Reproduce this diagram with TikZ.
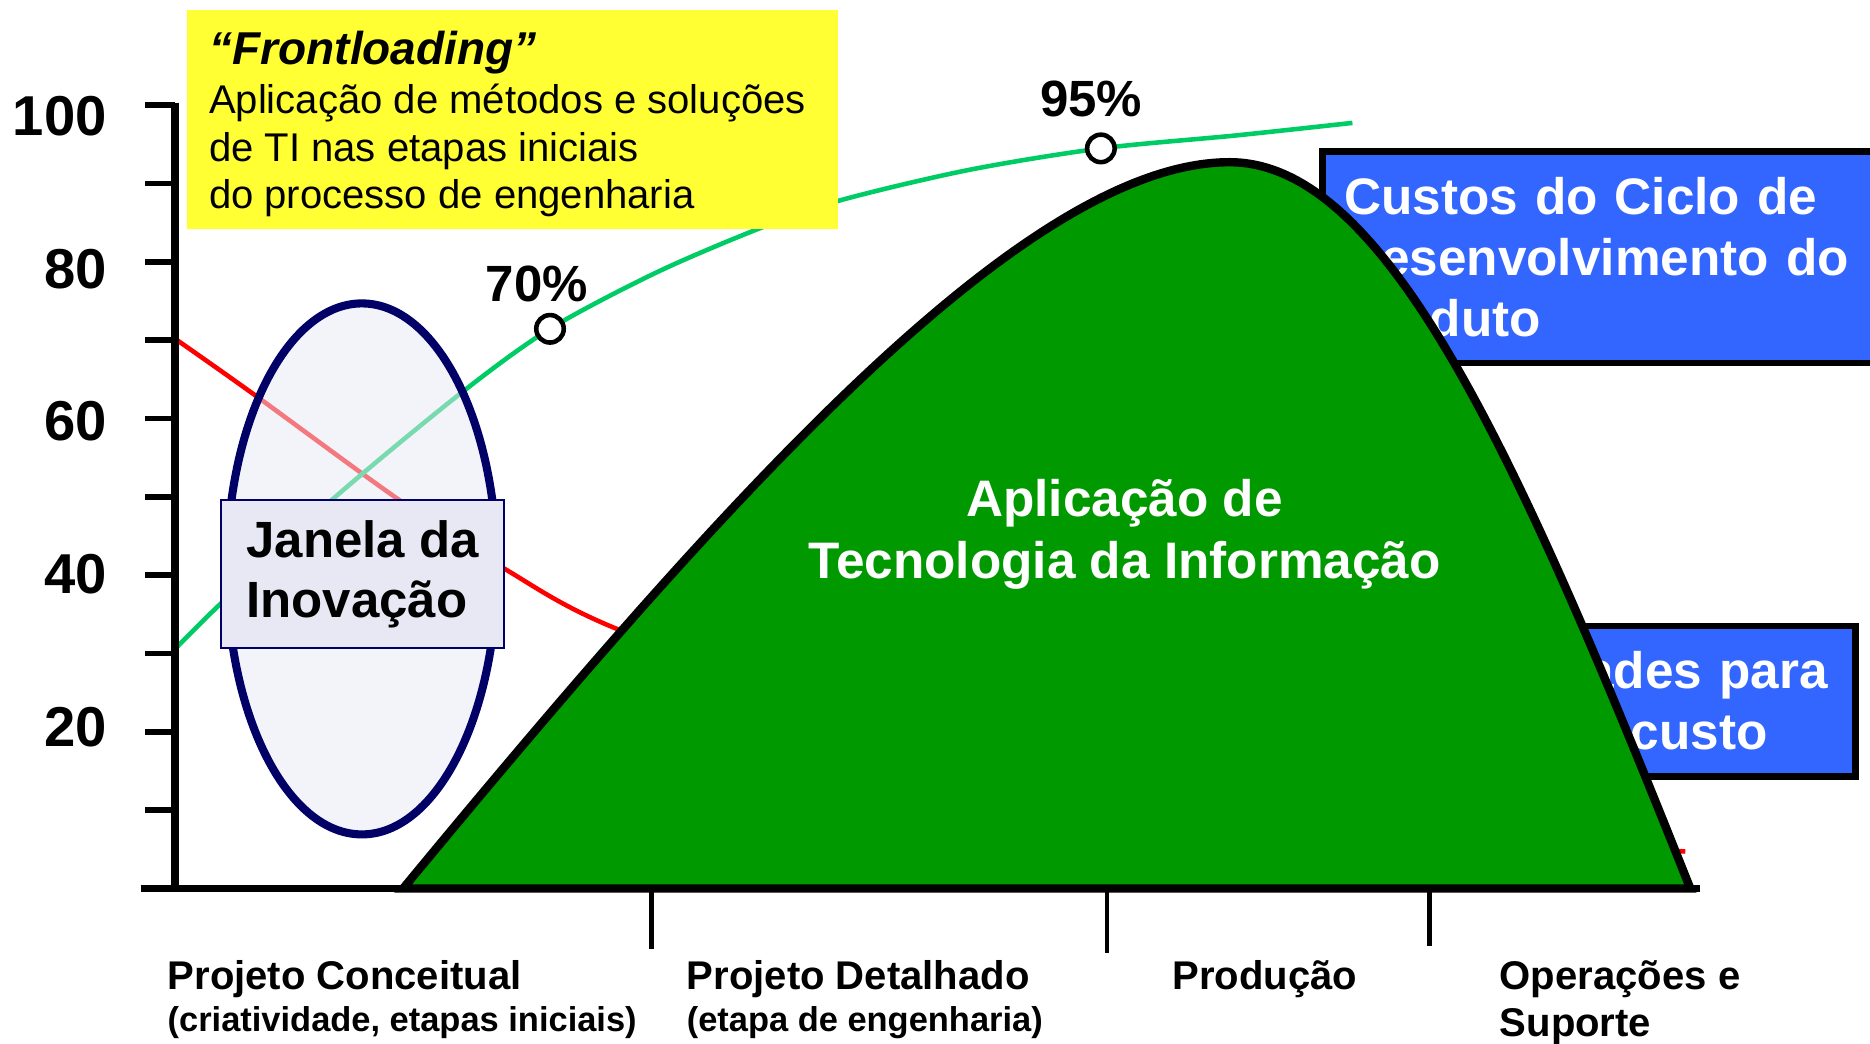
\documentclass[tikz,border=0pt]{standalone}
\usepackage{fontspec}
\setmainfont{Liberation Sans}

\definecolor{morroverde}{HTML}{009900}
\definecolor{curvaverde}{HTML}{00CC66}
\definecolor{azulmarinho}{HTML}{000066}
\definecolor{lavanda}{HTML}{E8E8F5}
\definecolor{amarelonota}{HTML}{FFFF33}
\definecolor{azulcaixa}{HTML}{3366FF}

\tikzset{
    eixo/.style={line width=2.2pt},
    marca/.style={line width=1.6pt},
    divisa/.style={line width=1.3pt},
    rotulo/.style={font=\fontsize{16}{16}\selectfont\bfseries, anchor=base east, inner sep=0pt},
    etapa/.style={font=\fontsize{11.4}{13}\selectfont\bfseries, anchor=base west, inner sep=0pt},
    subetapa/.style={font=\fontsize{9.8}{12}\selectfont\bfseries, anchor=base west, inner sep=0pt},
    caixaazul/.style={fill=azulcaixa, draw=black, line width=1.8pt, outer sep=0pt,
        inner xsep=0.215cm, inner ysep=0.1cm, align=left, text=white,
        font=\fontsize{14.6}{17.4}\selectfont\bfseries},
    notatexto/.style={font=\fontsize{11.4}{13.4}\selectfont, anchor=base west, inner sep=0pt},
    ponto/.style={circle, draw=black, fill=white, line width=1.3pt, minimum size=0.275cm, inner sep=0pt},
    pct/.style={font=\fontsize{14.5}{14.5}\selectfont\bfseries, anchor=base, inner sep=0pt},
    textomorro/.style={font=\fontsize{14.6}{17.4}\selectfont\bfseries, text=white, anchor=base, inner sep=0pt}
}

\begin{document}
\begin{tikzpicture}
        \useasboundingbox (-1.753,-1.550) rectangle (16.947,8.885);

        % --- 右側の青い箱（山の後ろ） ---
        \node[caixaazul, text width=5.597cm, minimum height=2.117cm, anchor=north west]
            (custos) at (11.473,7.37) {Custos do Ciclo de\\Desenvolvimento do\\Produto};
        \node[caixaazul, text width=4.968cm, minimum height=1.506cm, anchor=south east]
            (oportunidades) at (16.803,1.121) {\rule{0pt}{13.2pt}Oportunidades para\\redução de custo};

        % --- 曲線 ---
        \draw[red, line width=1.3pt] plot[smooth] coordinates {
            (0,5.496) (0.775,4.949) (2.218,3.900) (3.315,3.184) (4.377,2.612)
            (7,1.65) (10,0.95) (13,0.55) (15.10,0.37)};
        \draw[curvaverde, line width=1.3pt] plot[smooth] coordinates {
            (0,2.397) (0.447,2.842) (1.574,3.893) (2.850,4.949) (3.747,5.597)
            (4.8,6.155) (5.814,6.59) (6.643,6.88) (7.926,7.184) (9.256,7.401)
            (10.6,7.53) (11.771,7.656)};

        % --- 黄色のメモ ---
        \node[fill=amarelonota, anchor=north west, minimum width=6.512cm, minimum height=2.194cm,
            inner sep=0pt, outer sep=0pt] (front) at (0.119,8.789) {};
        \node[font=\fontsize{13.1}{14}\selectfont\bfseries\itshape, anchor=base west, inner sep=0pt]
            (front0) at (0.334,8.245) {“Frontloading”};
        \foreach \linha/\yy [count=\i] in {Aplicação de métodos e soluções/7.746,
            de TI nas etapas iniciais/7.269, do processo de engenharia/6.804} {
            \node[notatexto] (front\i) at (0.33,\yy) {\linha};
        }

        % --- 70% と 95% の点 ---
        \node[ponto] (p70) at (3.747,5.597) {};
        \node[pct] (l70) at (3.614,5.874) {70\%};
        \node[ponto] (p95) at (9.256,7.401) {};
        \node[pct] (l95) at (9.159,7.719) {95\%};

        % --- イノベーションの窓 ---
        \filldraw[fill=lavanda, fill opacity=0.52, draw=azulmarinho, line width=2.3pt]
            (1.866,3.196) ellipse [x radius=1.35, y radius=2.655];
        \node[draw=azulmarinho, fill=lavanda, line width=0.6pt, minimum width=2.827cm,
            minimum height=1.481cm, align=left, font=\fontsize{14.5}{17}\selectfont\bfseries]
            (janela) at (1.874,3.144) {Janela da\\Inovação};

        % --- 山（IT の適用） ---
        \filldraw[fill=morroverde, draw=black, line width=2.4pt]
            (2.278,0) .. controls (5.5,3.9) and (8.5,7.263) .. (10.543,7.263)
            .. controls (12.1,7.263) and (13.4,4.4) .. (15.15,0) -- cycle;
        \node[textomorro] (ti1) at (9.493,3.718) {Aplicação de};
        \node[textomorro] (ti2) at (9.493,3.103) {Tecnologia da Informação};

        % --- 座標軸 ---
        \draw[eixo] (0,7.86) -- (0,0);
        \draw[eixo] (-0.346,0) -- (15.247,0);

        % --- 目盛り ---
        \foreach \k in {1,...,10} {
            \draw[marca] (-0.298,{\k*0.7835}) -- (0,{\k*0.7835});
        }
        \foreach \v/\yy in {20/1.416, 40/2.947, 60/4.479, 80/5.998, 100/7.529} {
            \node[rotulo] (y\v) at (-0.68,\yy) {\v};
        }
        \foreach \x/\fim in {4.763/-0.6, 9.316/-0.645, 12.543/-0.57} {
            \draw[divisa] (\x,0) -- (\x,\fim);
        }

        % --- 段階の名前 ---
        \node[etapa] (pc) at (-0.083,-1.012) {Projeto Conceitual};
        \node[subetapa] (pcsub) at (-0.083,-1.426) {(criatividade, etapas iniciais)};
        \node[etapa] (pd) at (5.108,-1.012) {Projeto Detalhado};
        \node[subetapa] (pdsub) at (5.108,-1.426) {(etapa de engenharia)};
        \node[etapa] (prod) at (9.964,-1.012) {Produção};
        \node[etapa] (ops) at (13.238,-1.012) {Operações e};
        \node[etapa] (sup) at (13.238,-1.476) {Suporte};

    \end{tikzpicture}
\end{document}
